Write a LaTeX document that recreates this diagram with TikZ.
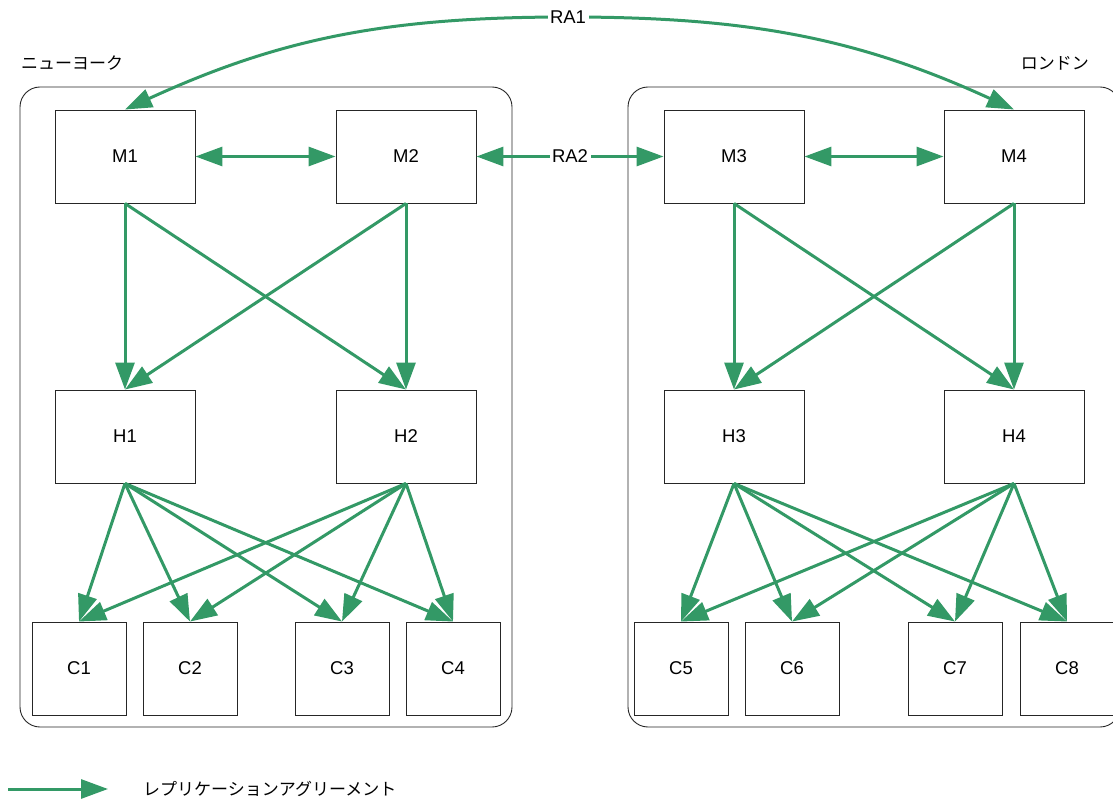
\documentclass[tikz,border=0pt]{standalone}
\usepackage{fontspec}
\setmainfont{Liberation Sans}
\newfontfamily\jpfont{Noto Sans CJK JP}
\usetikzlibrary{arrows.meta}
\definecolor{repgreen}{HTML}{339966}

\begin{document}
\begin{tikzpicture}[x=1pt, y=-1pt, >={Triangle[length=27pt,width=19pt]},
  rep/.style={draw=repgreen, line width=3pt},
  srv/.style={draw=black!85, line width=0.9pt, minimum width=140pt, minimum height=93pt,
    inner sep=0pt, font=\fontsize{18.5}{21}\selectfont},
  cli/.style={srv, minimum width=94pt},
  site/.style={draw=black!85, line width=0.9pt, rounded corners=20pt},
  lab/.style={fill=white, inner sep=2.5pt, font=\fontsize{18.5}{21}\selectfont},
  jp/.style={inner sep=0pt, font=\jpfont\fontsize{17}{20}\selectfont}]
  \useasboundingbox (0,0) rectangle (1113,799);
  % sites
  \draw[site] (20,87) rectangle (512,727);
  \draw[site] (628,87) rectangle (1120,727);
  \node[jp, anchor=west] (nylabel) at (21,63) {ニューヨーク};
  \node[jp, anchor=east] (ldlabel) at (1089,63) {ロンドン};
  % masters
  \node[srv] (M1) at (125,156.5) {M1};
  \node[srv] (M2) at (406,156.5) {M2};
  \node[srv] (M3) at (734,156.5) {M3};
  \node[srv] (M4) at (1014,156.5) {M4};
  % hubs
  \node[srv] (H1) at (125,436.5) {H1};
  \node[srv] (H2) at (406,436.5) {H2};
  \node[srv] (H3) at (734,436.5) {H3};
  \node[srv] (H4) at (1014,436.5) {H4};
  % consumers
  \node[cli] (C1) at (79,668.5) {C1};
  \node[cli] (C2) at (190,668.5) {C2};
  \node[cli] (C3) at (342,668.5) {C3};
  \node[cli] (C4) at (453,668.5) {C4};
  \node[cli] (C5) at (681,668.5) {C5};
  \node[cli] (C6) at (792,668.5) {C6};
  \node[cli] (C7) at (955,668.5) {C7};
  \node[cli] (C8) at (1067,668.5) {C8};
  % agreements between masters
  \draw[rep,<->] (M1) -- (M2);
  \draw[rep,<->] (M3) -- (M4);
  \draw[rep,<->] (M2) -- (M3) node[lab,midway] (ra2) {RA2};
  \coordinate (ratop) at (568,17);
  \draw[rep,<->] (M1.north) .. controls (281,38) and (388,17) .. (ratop)
    .. controls (748,17) and (858,38) .. (M4.north);
  \node[lab] (ra1) at (ratop) {RA1};
  % masters to hubs
  \foreach \m in {M1,M2} \foreach \h in {H1,H2}
    \draw[rep,->] (\m.south) -- (\h.north);
  \foreach \m in {M3,M4} \foreach \h in {H3,H4}
    \draw[rep,->] (\m.south) -- (\h.north);
  % hubs to consumers
  \foreach \h in {H1,H2} \foreach \c in {C1,C2,C3,C4}
    \draw[rep,->] (\h.south) -- (\c.north);
  \foreach \h in {H3,H4} \foreach \c in {C5,C6,C7,C8}
    \draw[rep,->] (\h.south) -- (\c.north);
  % legend
  \coordinate (lgstart) at (8,789);
  \coordinate (lgend) at (108,789);
  \draw[rep,->] (lgstart) -- (lgend);
  \node[jp, anchor=west] (lgtext) at (143,789) {レプリケーションアグリーメント};
\end{tikzpicture}
\end{document}
